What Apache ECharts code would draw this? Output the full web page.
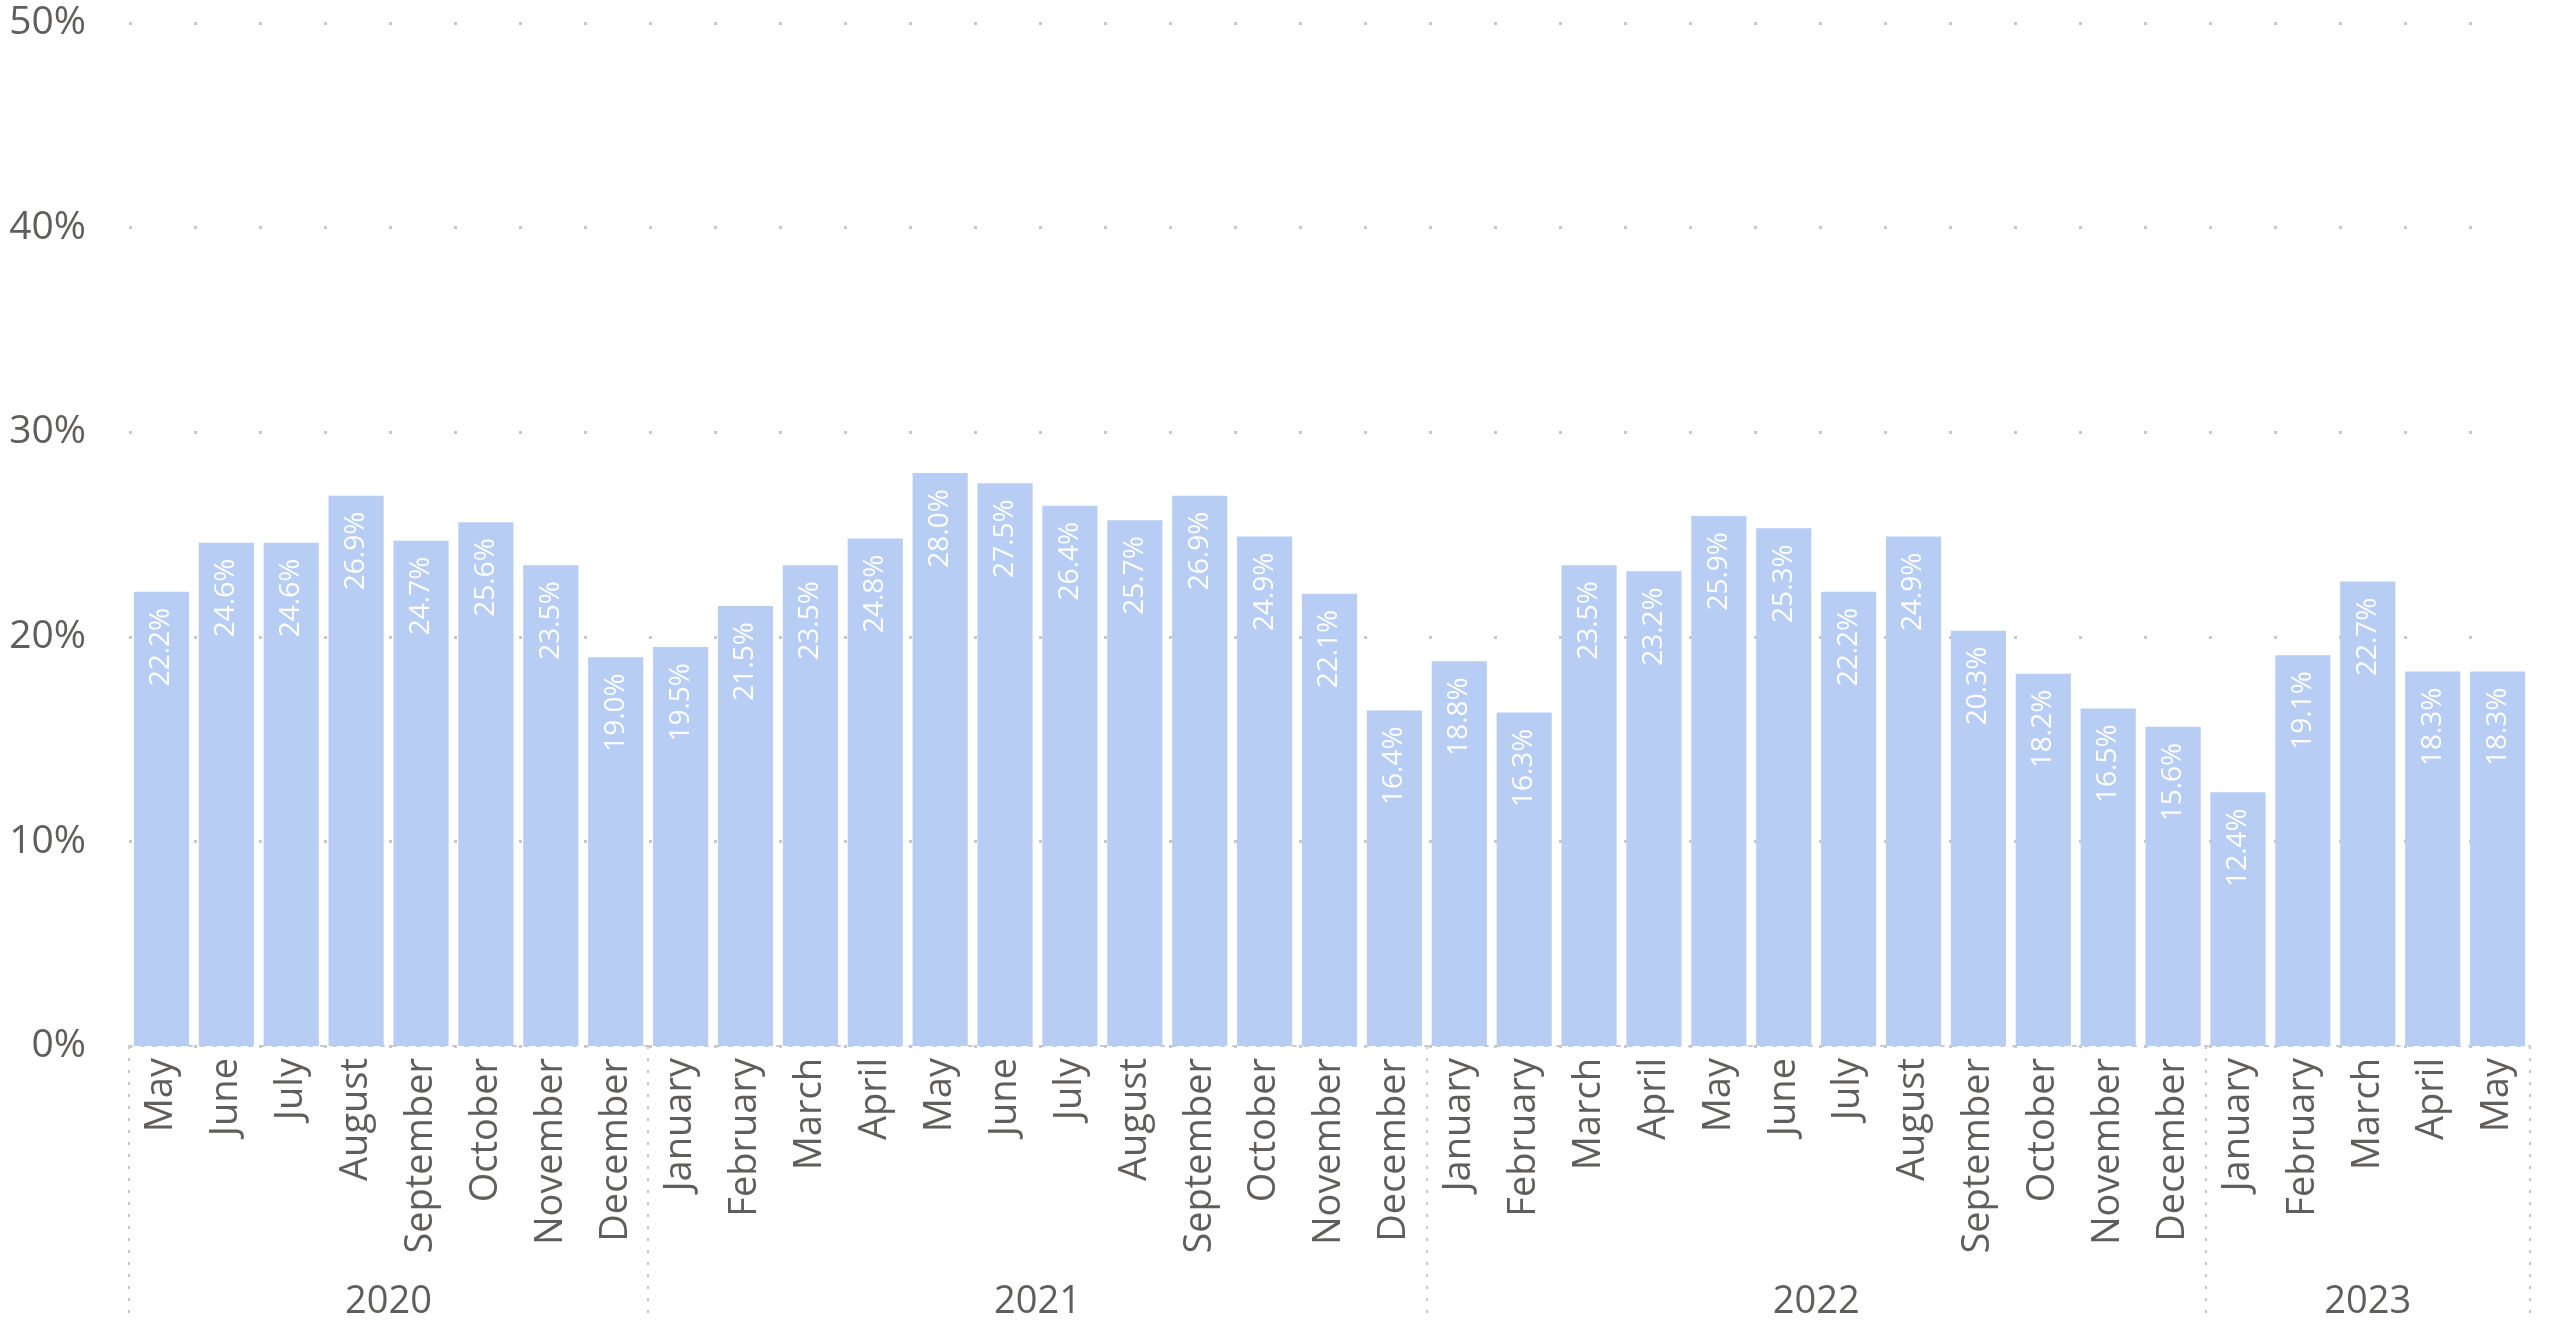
<!DOCTYPE html>
<html>
<head>
<meta charset="utf-8">
<script src="https://cdn.jsdelivr.net/npm/echarts@6/dist/echarts.min.js"></script>
<style>
  html, body { margin: 0; padding: 0; background: #ffffff; }
  #chart { width: 2552px; height: 1321px; }
</style>
</head>
<body>
<div id="chart"></div>
<script>
// ---- Data ----
const years = ['2020', '2021', '2022', '2023'];
const months2020 = ['May', 'June', 'July', 'August', 'September', 'October', 'November', 'December'];
const months2021 = ['January', 'February', 'March', 'April', 'May', 'June', 'July', 'August', 'September', 'October', 'November', 'December'];
const months2022 = ['January', 'February', 'March', 'April', 'May', 'June', 'July', 'August', 'September', 'October', 'November', 'December'];
const months2023 = ['January', 'February', 'March', 'April', 'May'];
const values2020 = [22.2, 24.6, 24.6, 26.9, 24.7, 25.6, 23.5, 19.0];
const values2021 = [19.5, 21.5, 23.5, 24.8, 28.0, 27.5, 26.4, 25.7, 26.9, 24.9, 22.1, 16.4];
const values2022 = [18.8, 16.3, 23.5, 23.2, 25.9, 25.3, 22.2, 24.9, 20.3, 18.2, 16.5, 15.6];
const values2023 = [12.4, 19.1, 22.7, 18.3, 18.3];
const yTicks = [0, 10, 20, 30, 40, 50];

// ---- Derived ----
const monthGroups = [months2020, months2021, months2022, months2023];
const categories = [].concat(months2020, months2021, months2022, months2023);
const values = [].concat(values2020, values2021, values2022, values2023);
const boundaries = [0];
monthGroups.forEach(g => boundaries.push(boundaries[boundaries.length - 1] + g.length));
const yearCenters = years.map((y, i) => (boundaries[i] + boundaries[i + 1]) / 2);
const total = categories.length;

const FONT = "'Segoe UI', 'Open Sans', 'Noto Sans', sans-serif";
const TEXT = '#605E5C';
const GRID = '#c8c8c8';

const chart = echarts.init(document.getElementById('chart'), null, { renderer: 'canvas' });
chart.setOption({
  animation: false,
  backgroundColor: '#ffffff',
  grid: { left: 129, right: 22, top: 23, bottom: 271, containLabel: false },
  xAxis: [
    {
      type: 'category',
      data: categories,
      boundaryGap: true,
      axisLine: { show: true, lineStyle: { color: GRID, width: 2, type: [3, 9] } },
      axisTick: { show: false },
      axisLabel: {
        rotate: 90,
        interval: 0,
        fontSize: 38,
        fontFamily: FONT,
        color: TEXT,
        margin: 12
      },
      splitLine: { show: false }
    },
    {
      type: 'value',
      position: 'bottom',
      min: 0,
      max: total,
      axisLine: { show: false },
      axisTick: {
        show: true,
        customValues: boundaries,
        length: 271,
        lineStyle: { color: GRID, width: 2, type: [3, 9] }
      },
      axisLabel: {
        show: true,
        customValues: yearCenters,
        formatter: function (v) {
          const i = yearCenters.indexOf(v);
          return i >= 0 ? years[i] : '';
        },
        fontSize: 38,
        fontFamily: FONT,
        color: TEXT,
        margin: 237
      },
      splitLine: { show: false }
    }
  ],
  yAxis: {
    type: 'value',
    min: yTicks[0],
    max: yTicks[yTicks.length - 1],
    interval: yTicks[1] - yTicks[0],
    axisLine: { show: false },
    axisTick: { show: false },
    axisLabel: {
      formatter: '{value}%',
      fontSize: 39,
      fontFamily: FONT,
      color: TEXT,
      margin: 43
    },
    splitLine: { show: true, lineStyle: { color: GRID, width: 3, type: [3, 62] } }
  },
  series: [
    {
      type: 'bar',
      xAxisIndex: 0,
      data: values,
      barCategoryGap: '15%',
      itemStyle: { color: '#B7CDF4' },
      label: {
        show: true,
        position: 'insideTop',
        rotate: 90,
        align: 'right',
        verticalAlign: 'middle',
        distance: 16,
        formatter: p => p.value.toFixed(1) + '%',
        fontSize: 28,
        fontFamily: FONT,
        color: '#ffffff'
      }
    }
  ]
});
</script>
</body>
</html>
